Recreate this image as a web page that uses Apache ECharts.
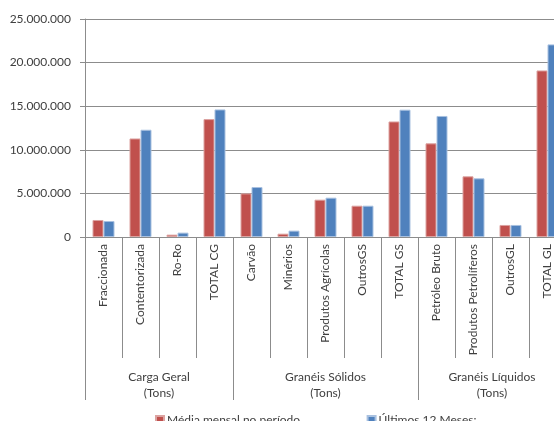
<!DOCTYPE html>
<html><head><meta charset="utf-8">
<script src="https://cdn.jsdelivr.net/npm/echarts@6/dist/echarts.min.js"></script>
<style>html,body{margin:0;padding:0;background:#fff;overflow:hidden}#c{width:570px;height:421px}</style>
</head><body><div id="c"></div>
<script>
const categories = ["Fraccionada","Contentorizada","Ro-Ro","TOTAL CG","Carvão","Minérios","Produtos Agrícolas","OutrosGS","TOTAL GS","Petróleo Bruto","Produtos Petrolíferos","OutrosGL","TOTAL GL"];
const seriesNames = ["Média mensal no período...","Últimos 12 Meses:..."];
const mediaMensal = [1950000,11300000,270000,13520000,5000000,380000,4280000,3590000,13250000,10740000,6960000,1380000,19100000];
const ultimos12 = [1830000,12300000,500000,14630000,5730000,730000,4510000,3590000,14600000,13880000,6730000,1380000,22090000];
const groups = [{name:"Carga Geral\n(Tons)",start:0,end:4},{name:"Granéis Sólidos\n(Tons)",start:4,end:9},{name:"Granéis Líquidos\n(Tons)",start:9,end:13}];
const yTicks = [0,5000000,10000000,15000000,20000000,25000000];

const FONT = 'Lato, "Open Sans", sans-serif';
const groupBounds = groups.map(g=>g.start);
const groupCenters = groups.map(g=>(g.start+g.end)/2);
function fmt(v){return String(v).replace(/\B(?=(\d{3})+(?!\d))/g,'.');}

const chart = echarts.init(document.getElementById('c'));
chart.setOption({
  animation:false,
  grid:{left:85,top:19,width:481,height:218,containLabel:false},
  legend:{
    left:150, top:409, itemWidth:8, itemHeight:8, itemGap:58, icon:'rect',
    textStyle:{fontFamily:FONT,fontSize:12,color:'#404040',padding:[0,0,0,-2]},
    data:seriesNames
  },
  xAxis:[{
    type:'category', data:categories, position:'bottom',
    axisLine:{lineStyle:{color:'#8c8c8c',width:1}},
    axisTick:{show:true,length:121,interval:0,lineStyle:{color:'#8c8c8c'}},
    axisLabel:{rotate:90,interval:0,margin:7,fontFamily:FONT,fontSize:12,color:'#404040'}
  },{
    type:'value', min:0, max:13, position:'bottom',
    axisLine:{show:false},
    splitLine:{show:false},
    axisTick:{show:true,length:163,customValues:groupBounds,lineStyle:{color:'#8c8c8c'}},
    axisLabel:{customValues:groupCenters,margin:132,lineHeight:16,fontFamily:FONT,fontSize:12,color:'#404040',
      formatter:function(v){const g=groups.find(x=>Math.abs((x.start+x.end)/2-v)<1e-6);return g?g.name:'';}}
  }],
  yAxis:{
    type:'value', min:yTicks[0], max:yTicks[yTicks.length-1], interval:5000000,
    axisLine:{show:true,lineStyle:{color:'#8c8c8c'}},
    axisTick:{show:true,length:5,lineStyle:{color:'#8c8c8c'}},
    splitLine:{lineStyle:{color:'#8c8c8c',width:1}},
    axisLabel:{fontFamily:FONT,fontSize:12,color:'#404040',margin:14,formatter:fmt}
  },
  series:[{
    name:seriesNames[0], type:'bar', data:mediaMensal, barWidth:11, barGap:'0%',
    itemStyle:{color:'#C0504D',borderColor:'#dca3a1',borderWidth:1}
  },{
    name:seriesNames[1], type:'bar', data:ultimos12, barWidth:11, barGap:'0%',
    itemStyle:{color:'#4F81BD',borderColor:'#a9c1e0',borderWidth:1}
  }]
});
</script></body></html>
